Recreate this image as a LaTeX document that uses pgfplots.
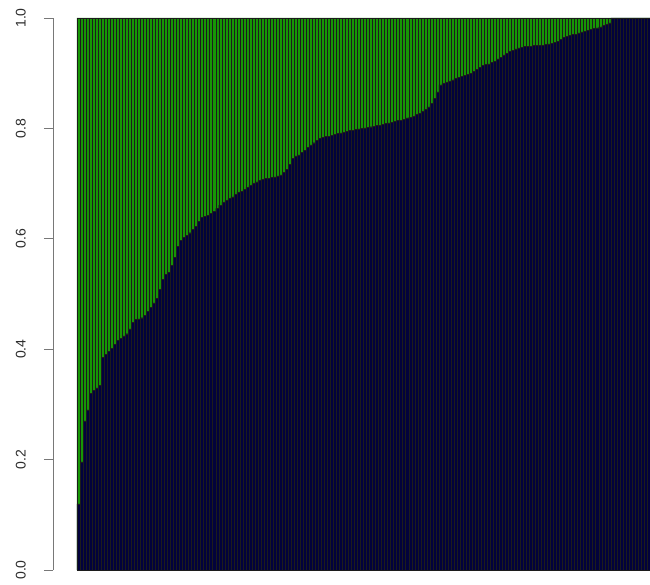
\documentclass[border=0pt]{standalone}
\usepackage{fontspec}
\setmainfont{Liberation Sans}
\usepackage{pgfplots}
\usepackage{pgfplotstable}
\pgfplotsset{compat=1.18}
\definecolor{kblue}{RGB}{2,2,60}
\definecolor{kgreen}{RGB}{22,150,5}
\definecolor{kline}{RGB}{28,28,28}
\definecolor{kaxis}{RGB}{120,120,120}
\definecolor{ktext}{RGB}{45,45,45}

\pgfplotstableread{
i q g
0 0.120 1
1 0.196 1
2 0.270 1
3 0.290 1
4 0.320 1
5 0.325 1
6 0.330 1
7 0.335 1
8 0.385 1
9 0.390 1
10 0.396 1
11 0.402 1
12 0.409 1
13 0.416 1
14 0.420 1
15 0.424 1
16 0.428 1
17 0.437 1
18 0.449 1
19 0.454 1
20 0.455 1
21 0.457 1
22 0.461 1
23 0.468 1
24 0.476 1
25 0.484 1
26 0.492 1
27 0.508 1
28 0.526 1
29 0.535 1
30 0.539 1
31 0.552 1
32 0.567 1
33 0.586 1
34 0.597 1
35 0.603 1
36 0.606 1
37 0.611 1
38 0.617 1
39 0.622 1
40 0.631 1
41 0.639 1
42 0.641 1
43 0.643 1
44 0.646 1
45 0.650 1
46 0.655 1
47 0.661 1
48 0.666 1
49 0.669 1
50 0.673 1
51 0.676 1
52 0.680 1
53 0.684 1
54 0.686 1
55 0.689 1
56 0.693 1
57 0.697 1
58 0.700 1
59 0.703 1
60 0.706 1
61 0.708 1
62 0.709 1
63 0.709 1
64 0.711 1
65 0.712 1
66 0.714 1
67 0.716 1
68 0.721 1
69 0.726 1
70 0.735 1
71 0.746 1
72 0.750 1
73 0.752 1
74 0.756 1
75 0.760 1
76 0.765 1
77 0.770 1
78 0.774 1
79 0.778 1
80 0.782 1
81 0.784 1
82 0.785 1
83 0.786 1
84 0.787 1
85 0.789 1
86 0.791 1
87 0.792 1
88 0.793 1
89 0.795 1
90 0.796 1
91 0.797 1
92 0.798 1
93 0.799 1
94 0.800 1
95 0.801 1
96 0.802 1
97 0.803 1
98 0.804 1
99 0.805 1
100 0.806 1
101 0.807 1
102 0.809 1
103 0.810 1
104 0.811 1
105 0.813 1
106 0.814 1
107 0.815 1
108 0.817 1
109 0.819 1
110 0.820 1
111 0.822 1
112 0.825 1
113 0.827 1
114 0.831 1
115 0.835 1
116 0.839 1
117 0.845 1
118 0.854 1
119 0.866 1
120 0.879 1
121 0.881 1
122 0.883 1
123 0.885 1
124 0.888 1
125 0.890 1
126 0.892 1
127 0.894 1
128 0.896 1
129 0.898 1
130 0.900 1
131 0.903 1
132 0.907 1
133 0.911 1
134 0.914 1
135 0.916 1
136 0.917 1
137 0.919 1
138 0.922 1
139 0.926 1
140 0.929 1
141 0.933 1
142 0.936 1
143 0.940 1
144 0.942 1
145 0.944 1
146 0.946 1
147 0.947 1
148 0.948 1
149 0.948 1
150 0.949 1
151 0.950 1
152 0.950 1
153 0.951 1
154 0.951 1
155 0.952 1
156 0.953 1
157 0.954 1
158 0.956 1
159 0.958 1
160 0.961 1
161 0.965 1
162 0.967 1
163 0.968 1
164 0.970 1
165 0.971 1
166 0.973 1
167 0.975 1
168 0.976 1
169 0.978 1
170 0.979 1
171 0.981 1
172 0.982 1
173 0.984 1
174 0.986 1
175 0.988 1
176 0.991 1
177 1.000 1
178 1.000 1
179 1.000 1
180 1.000 1
181 1.000 1
182 1.000 1
183 1.000 1
184 1.000 1
185 1.000 1
186 1.000 1
187 1.000 1
188 1.000 1
189 1.000 1
190 1.000 1
}\data

\begin{document}
\begin{tikzpicture}
\path[use as bounding box] (-77pt,-14pt) rectangle (573pt,570pt);
\begin{axis}[
  at={(0pt,0pt)}, anchor=south west,
  scale only axis, width=573pt, height=552pt,
  xmin=0, xmax=190, ymin=0, ymax=1,
  axis lines=none, clip=false,
]
\addplot[ybar interval, fill=kgreen, draw=kline, line width=0.45pt] table[x=i,y=g]{\data};
\addplot[ybar interval, fill=kblue, draw=kline, line width=0.45pt] table[x=i,y=q]{\data};
\end{axis}
\begin{axis}[
  at={(-24pt,0pt)}, anchor=south west,
  scale only axis, width=10pt, height=552pt,
  xmin=0, xmax=1, ymin=0, ymax=1,
  axis y line=left, axis x line=none,
  y axis line style={-, draw=kaxis, line width=0.9pt},
  ytick={0,0.2,0.4,0.6,0.8,1},
  yticklabels={0.0,0.2,0.4,0.6,0.8,1.0},
  tick align=outside, major tick length=9pt,
  every tick/.style={draw=kaxis, line width=0.9pt},
  yticklabel style={rotate=90, anchor=south, inner sep=0pt, text=ktext, font=\fontsize{14}{16}\selectfont},
  yticklabel shift=18pt,
]
\end{axis}
\end{tikzpicture}
\end{document}
